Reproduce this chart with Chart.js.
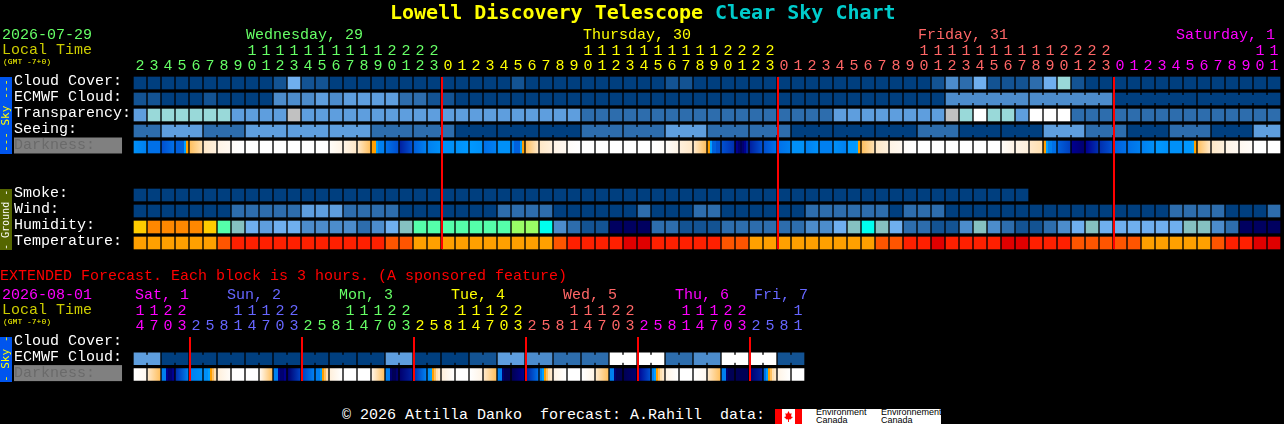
<!DOCTYPE html>
<html>
<head>
<meta charset="utf-8">
<title>Lowell Discovery Telescope Clear Sky Chart</title>
<script src="https://cdn.jsdelivr.net/npm/chart.js@4/dist/chart.umd.min.js"></script>
<style>
  html, body { margin: 0; padding: 0; background: #000; width: 1284px; height: 424px; overflow: hidden; }
  canvas { position: absolute; left: 0; }
  .txt { position: absolute; white-space: pre; font-family: "Liberation Mono", monospace; font-size: 15px; line-height: 15px; }
  .side { position: absolute; left: 0; width: 12px; writing-mode: vertical-rl; transform: rotate(180deg); text-align: center;
          font-family: "DejaVu Sans Mono", monospace; line-height: 12px; white-space: pre; }
  .box { position: absolute; }
</style>
</head>
<body>
<canvas id="mainChart" width="1284" height="270" style="top:0"></canvas>
<canvas id="extChart" width="1284" height="110" style="top:280px"></canvas>
<script>
  // hours along the top of each block
  const mainHours = [2,3,4,5,6,7,8,9,10,11,12,13,14,15,16,17,18,19,20,21,22,23,
    0,1,2,3,4,5,6,7,8,9,10,11,12,13,14,15,16,17,18,19,20,21,22,23,
    0,1,2,3,4,5,6,7,8,9,10,11,12,13,14,15,16,17,18,19,20,21,22,23,
    0,1,2,3,4,5,6,7,8,9,10,11];
  const extHours = [14,17,20,23,2,5,8,11,14,17,20,23,2,5,8,11,14,17,20,23,2,5,8,11,
    14,17,20,23,2,5,8,11,14,17,20,23,2,5,8,11,14,17,20,23,2,5,8,11];

  const mainDay = [0,0,0,0,0,0,0,0,0,0,0,0,0,0,0,0,0,0,0,0,0,0,
    1,1,1,1,1,1,1,1,1,1,1,1,1,1,1,1,1,1,1,1,1,1,1,1,
    2,2,2,2,2,2,2,2,2,2,2,2,2,2,2,2,2,2,2,2,2,2,2,2,
    3,3,3,3,3,3,3,3,3,3,3,3];
  const extDay = [3,3,3,3,4,4,4,4,4,4,4,4,0,0,0,0,0,0,0,0,1,1,1,1,1,1,1,1,
    2,2,2,2,2,2,2,2,3,3,3,3,3,3,3,3,4,4,4,4];

  const mainRowLabels = ['Cloud Cover:','ECMWF Cloud:','Transparency:','Seeing:','Darkness:   ','','','Smoke:','Wind:','Humidity:','Temperature:'];
  const extRowLabels = ['Cloud Cover:','ECMWF Cloud:','Darkness:   '];

  // forecast levels, one per hour block
  const cloudCover = [0,0,0,0,0,0,0,0,0,0, 1,5,1,1,0,0,0,0,0,0, 0,0,0,0,0,0,0,1,0,0, 0,0,0,0,0,0,0,0,1,1,
    0,0,0,0,0,0,0,0,0,0, 0,0,0,0,0,0,0,1,3,2, 5,1,1,1,2,5,6,1,0,0, 0,0,0,0,0,0,0,0,0,0,0,0];
  const ecmwfCloud = [1,1,0,0,0,1,0,0,0,0, 3,3,3,4,3,4,4,4,4,2, 2,1,1,0,0,0,0,0,0,0, 0,0,0,0,0,0,0,0,0,0,
    0,0,0,0,0,0,0,0,0,0, 0,0,0,0,0,0,0,0,3,3, 3,3,3,3,3,3,3,3,3,3, 0,0,0,0,0,0,0,0,0,0,0,0];
  const transparency = [4,6,6,6,6,6,6,4,4,4, 4,7,4,4,4,4,4,4,4,4, 4,4,4,4,4,4,4,4,4,4, 4,4,2,2,2,2,2,2,2,2,
    2,2,2,2,2,2,2,2,2,2, 4,4,4,4,4,4,4,4,7,6, 8,6,6,4,8,8,8,2,2,2, 2,2,2,2,2,2,2,2,2,2,2,2];
  const seeing = [2,2,4,4,4,2,2,2,4,4, 4,4,4,4,4,4,4,2,2,2, 2,2,2,0,0,0,0,0,0,0, 0,0,2,2,2,2,2,2,4,4,
    4,2,2,2,2,2,2,0,0,0, 0,0,0,0,0,0,2,2,2,0, 0,0,0,0,0,4,4,4,2,2, 2,0,0,0,2,2,2,0,0,0,4,4];
  const smoke = [0,0,0,0,0,0,0,0,0,0, 0,0,0,0,0,0,0,0,0,0, 0,0,0,0,0,0,0,0,0,0, 0,0,0,0,0,0,0,0,0,0,
    0,0,0,0,0,0,0,0,0,0, 0,0,0,0,0,0,0,0,0,0, 0,0,0,0];
  const wind = [0,0,0,0,0,0,0,2,2,2, 2,2,4,4,4,2,2,2,2,0, 0,0,0,0,0,0,2,2,2,2, 0,0,0,0,0,0,2,0,0,0,
    2,2,0,0,0,0,0,0,2,2, 2,2,2,2,0,2,2,2,0,0, 0,0,0,0,0,0,0,0,0,0, 0,0,0,0,2,2,2,2,0,0,0,2];
  const humidity = [0,1,1,1,1,0,2,3,4,5, 4,4,6,6,6,6,7,6,4,3, 2,2,2,2,2,2,2,11,11,10, 6,7,8,8,9,9,9,7,7,8,
    8,8,7,7,7,7,7,7,6,6, 4,3,10,3,4,7,7,8,8,6, 3,6,7,8,8,7,6,4,3,4, 4,4,4,4,4,3,3,6,7,9,9,9];
  const temperature = [0,0,0,0,0,0,1,2,2,2, 2,2,2,2,2,2,2,2,1,1, 0,0,0,0,0,0,0,0,0,0, 1,2,2,2,2,3,3,2,2,2,
    2,2,1,1,0,0,0,0,0,0, 0,0,0,1,1,2,2,3,2,2, 2,2,3,3,2,2,2,1,1,1, 1,1,0,0,0,0,0,1,2,2,3,3];
  // two entries fade across the block, six are separate slices of it
  const darkness = [[11,12],[13,13],[15,13],[14,14,14,14,9,8],[7,6],[5,4],[3,2],[1,0],[0,0],[0,0],
    [0,0],[0,0],[0,0],[0,0],[1,3],[3,5],[5,7],[8,8,9,12,12,12],[13,15],[18,15],
    [14,12],[12,11],[11,11],[11,10],[10,11],[13,12],[11,11],[12,14,14,14,9,8],[7,5],[5,4],
    [3,2],[1,0],[0,0],[0,0],[0,0],[0,0],[0,0],[0,1],[1,3],[4,5],
    [5,7],[8,9,14,14,15,15],[15,17],[19,20,21,20,19,18],[18,15],[15,13],[13,12],[11,11],[12,11],[12,12],
    [11,12],[10,10,10,10,9,8],[7,6],[5,4],[3,2],[1,0],[0,0],[0,0],[0,0],[0,0],
    [0,0],[0,0],[1,3],[3,4],[5,6],[8,9,12,12,13,13],[14,16],[19,20],[19,17],[17,15],
    [14,13],[13,12],[12,11],[10,11],[11,11],[10,10,10,10,9,8],[7,5],[5,4],[3,2],[2,1],[0,0],[0,0]];

  const extEcmwf = [4,4,0,0,0,0,0,0,0,0,0,0,0,0,0,0,0,0,4,4,0,0,0,0,1,1,4,4,3,3,2,2,2,2,8,8,8,8,2,2,3,3,8,8,8,8,1,1];
  const extDarkness = [[0,2],[5,7],[12,12,19,20,20,19],[17,12],[12,11],[11,11,9,8,7,6],[4,1],[0,0],[0,0],[2,7],
    [12,12,19,20,20,19],[20,16],[16,12],[12,12,9,8,7,6],[4,0],[0,0],[0,0],[3,7],[12,12,20,21,21,20],[20,18],
    [17,12],[11,9,8,7,6,5],[4,0],[0,0],[0,3],[5,7],[12,12,20,21,21,21],[21,19],[18,13],[12,9,8,7,6,5],
    [3,0],[0,0],[0,3],[5,7],[12,12,20,21,21,21],[21,20],[19,15],[12,9,8,7,6,5],[3,0],[0,0],
    [0,2],[5,7],[12,12,20,21,21,21],[21,21],[20,18],[13,9,8,7,6,5],[3,0],[0,0]];

  const mainMidnights = [22, 46, 70];
  const extMidnights = [4, 12, 20, 28, 36, 44];

  const dayColors = ['#66ff66', '#ffff00', '#ff6666', '#ff00ff', '#6666ff'];
  const skyColors = ['#003f7f','#135393','#2d6dad','#4c8ccc','#5e9ede','#6fafef','#99d9d9','#c1c1c1','#ffffff'];
  const humidityColors = ['#ffcc00','#ff8800','#55ffaa','#85c1c1','#6fafef','#5e9ede','#4c8ccc','#2d6dad','#135393','#000060','#00ffee','#99ff66'];
  const tempColors = ['#ffa000','#ff5500','#ff2000','#e00000'];
  const darkColors = ['#ffffff','#fffcf8','#fff8f0','#fff4e6','#fff0dc','#ffe8c8','#ffe0b0','#ffc060','#ffa000',
    '#00a0ff','#0098ff','#0090f8','#0080f0','#0070e8','#0060dc','#0050d0','#0040c0','#0030b0','#0020a0','#000090','#000070','#000055'];

  const CELL = 12, HALF = 0.375;
  const MONO = '"Liberation Mono", monospace';

  const floatBars = (values, row) => values.map(() => [row - HALF, row + HALF]);

  const levelRow = (values, row, colors, joinBlock) => ({
    data: floatBars(values, row),
    backgroundColor: values.map((v) => colors[v]),
    joinBlock: joinBlock,
    grouped: false, barThickness: CELL, borderWidth: 0, borderSkipped: false,
  });

  const darkRow = (cells, row) => ({
    data: floatBars(cells, row),
    backgroundColor: (ctx) => {
      const stops = cells[ctx.dataIndex];
      const mid = ctx.chart.scales.x ? ctx.chart.scales.x.getPixelForValue(ctx.dataIndex) : NaN;
      if (!stops || !Number.isFinite(mid)) return '#000000';
      const grad = ctx.chart.ctx.createLinearGradient(mid - CELL / 2, 0, mid + CELL / 2, 0);
      if (stops.length === 2) {
        grad.addColorStop(0, darkColors[stops[0]]);
        grad.addColorStop(1, darkColors[stops[1]]);
      } else {
        stops.forEach((s, i) => {
          grad.addColorStop(i / stops.length, darkColors[s]);
          grad.addColorStop((i + 1) / stops.length, darkColors[s]);
        });
      }
      return grad;
    },
    grouped: false, barThickness: CELL, borderWidth: 0, borderSkipped: false,
  });

  // little bridges between joined blocks, then the red midnight bars
  const overlayPlugin = {
    id: 'overlay',
    afterDatasetsDraw(chart, args, opts) {
      const c = chart.ctx;
      const area = chart.chartArea;
      c.save();
      chart.data.datasets.forEach((ds, d) => {
        if (!ds.joinBlock) return;
        chart.getDatasetMeta(d).data.forEach((el, i, all) => {
          if (i + 1 < all.length && ds.joinBlock(i) === ds.joinBlock(i + 1) && ds.joinBlock(i) >= 0) {
            c.fillStyle = ds.backgroundColor[i];
            c.fillRect(el.x + CELL / 2, Math.min(el.y, el.base) + 2, 2, CELL - 4);
          }
        });
      });
      c.fillStyle = '#ff0000';
      opts.midnights.forEach((col) => {
        const x = Math.round(chart.scales.x.getPixelForValue(col) - CELL / 2);
        c.fillRect(x - 1, Math.round(area.top) + 2, 2, Math.round(area.height) - 4);
      });
      c.restore();
    },
  };

  const makeGrid = (id, hours, days, rowLabels, datasets, midnights, padding, axisHeight) => {
    new Chart(document.getElementById(id), {
      type: 'bar',
      data: {
        labels: hours.map((h) => (h < 10 ? ['', String(h)] : [String(Math.floor(h / 10)), String(h % 10)])),
        datasets: datasets,
      },
      plugins: [overlayPlugin],
      options: {
        responsive: false,
        animation: false,
        devicePixelRatio: 1,
        layout: { padding: padding },
        plugins: { legend: { display: false }, tooltip: { enabled: false }, overlay: { midnights: midnights } },
        scales: {
          x: {
            position: 'top',
            grid: { display: false, drawTicks: false },
            border: { display: false },
            afterFit: (s) => { s.height = axisHeight; },
            ticks: {
              autoSkip: false, maxRotation: 0, minRotation: 0, padding: 1,
              font: { family: MONO, size: 15, lineHeight: 1 },
              color: (ctx) => dayColors[days[ctx.index]],
            },
          },
          y: {
            reverse: true,
            min: -0.5,
            max: rowLabels.length - 0.5,
            grid: { display: false },
            border: { display: false },
            afterFit: (s) => { s.width = 119; },
            afterBuildTicks: (s) => { s.ticks = rowLabels.map((_, i) => ({ value: i - 2 / 16 })); },
            ticks: {
              autoSkip: false, crossAlign: 'far', padding: 0,
              showLabelBackdrop: true,
              backdropPadding: { top: 0, bottom: 1, left: 0, right: 0 },
              backdropColor: (ctx) => (rowLabels[ctx.index].startsWith('Darkness') ? '#808080' : 'rgba(0,0,0,0)'),
              font: { family: MONO, size: 15, lineHeight: 1 },
              color: (ctx) => (rowLabels[ctx.index].startsWith('Darkness') ? '#6a6a6a' : '#ffffff'),
              callback: (v, i) => rowLabels[i],
            },
          },
        },
      },
    });
  };

  makeGrid('mainChart', mainHours, mainDay, mainRowLabels, [
    levelRow(cloudCover, 0, skyColors),
    levelRow(ecmwfCloud, 1, skyColors, (i) => (i < 58 ? -1 : Math.floor((i - 58) / 6))),
    levelRow(transparency, 2, skyColors),
    levelRow(seeing, 3, skyColors, (i) => Math.floor((i + 1) / 3)),
    darkRow(darkness, 4),
    levelRow(smoke, 7, skyColors),
    levelRow(wind, 8, skyColors),
    levelRow(humidity, 9, humidityColors),
    levelRow(temperature, 10, tempColors),
  ], mainMidnights, { left: 14, right: 3, top: 0, bottom: 19 }, 75);

  makeGrid('extChart', extHours, extDay, extRowLabels, [
    levelRow(extEcmwf, 1, skyColors, (i) => Math.floor(i / 2)),
    darkRow(extDarkness, 2),
  ], extMidnights, { left: 14, right: 479, top: 0, bottom: 7 }, 55);

  // plain text round the charts
  const put = (text, x, y, color, extra) => {
    const el = document.createElement('div');
    el.className = 'txt';
    el.textContent = text;
    el.style.cssText = 'left:' + x + 'px;top:' + y + 'px;color:' + color + ';' + (extra || '');
    document.body.appendChild(el);
  };
  const side = (text, top, height, bg, color, size) => {
    const el = document.createElement('div');
    el.className = 'side';
    el.textContent = text;
    el.style.cssText = 'top:' + top + 'px;height:' + height + 'px;background:' + bg + ';color:' + color + ';font-size:' + size + 'px;';
    document.body.appendChild(el);
  };
  const box = (x, y, w, h, bg, extra) => {
    const el = document.createElement('div');
    el.className = 'box';
    el.style.cssText = 'left:' + x + 'px;top:' + y + 'px;width:' + w + 'px;height:' + h + 'px;background:' + bg + ';' + (extra || '');
    document.body.appendChild(el);
  };

  const bold = 'font-family:"DejaVu Sans Mono",monospace;font-weight:bold;font-size:20px;line-height:22px;';
  put('Lowell Discovery Telescope', 390, 1, '#ffff00', bold);
  put('Clear Sky Chart', 715, 1, '#00cccc', bold);

  put('2026-07-29', 2, 28, '#66ff66');
  put('Local Time', 2, 43, '#cccc00');
  put('(GMT -7+0)', 3, 57, '#ffff00', 'font-size:8px;line-height:10px;');
  put('Wednesday, 29', 246, 28, dayColors[0]);
  put('Thursday, 30', 583, 28, dayColors[1]);
  put('Friday, 31', 918, 28, dayColors[2]);
  put('Saturday, 1', 1176, 28, dayColors[3]);

  put('EXTENDED Forecast. Each block is 3 hours. (A sponsored feature)', 0, 269, '#ff0000');
  put('2026-08-01', 2, 288, '#ff00ff');
  put('Local Time', 2, 303, '#cccc00');
  put('(GMT -7+0)', 3, 317, '#ffff00', 'font-size:8px;line-height:10px;');
  put('Sat, 1', 135, 288, dayColors[3]);
  put('Sun, 2', 227, 288, dayColors[4]);
  put('Mon, 3', 339, 288, dayColors[0]);
  put('Tue, 4', 451, 288, dayColors[1]);
  put('Wed, 5', 563, 288, dayColors[2]);
  put('Thu, 6', 675, 288, dayColors[3]);
  put('Fri, 7', 754, 288, dayColors[4]);

  side('--- Sky ---', 77, 77, '#0055ee', '#ffff00', 11);
  side('- Ground -', 189, 61, '#556600', '#ffffff', 10);
  side('- Sky -', 337, 45, '#0055ee', '#ffff00', 11);

  put('\u00a9 2026 Attilla Danko  forecast: A.Rahill  data:', 342, 408, '#ffffff');
  box(775, 409, 166, 15, '#ffffff');
  box(775, 409, 7, 15, '#ff0000');
  box(795, 409, 7, 15, '#ff0000');
  box(784, 411, 9, 11, '#ff0000', 'clip-path:polygon(50% 0,65% 25%,85% 20%,78% 50%,100% 55%,70% 78%,55% 75%,55% 100%,45% 100%,45% 75%,30% 78%,0 55%,22% 50%,15% 20%,35% 25%);');
  const logoText = 'font-family:"Liberation Sans",sans-serif;font-size:9px;line-height:8px;';
  put('Environment', 816, 408, '#000000', logoText);
  put('Canada', 816, 416, '#000000', logoText);
  put('Environnement', 881, 408, '#000000', logoText);
  put('Canada', 881, 416, '#000000', logoText);
</script>
</body>
</html>
